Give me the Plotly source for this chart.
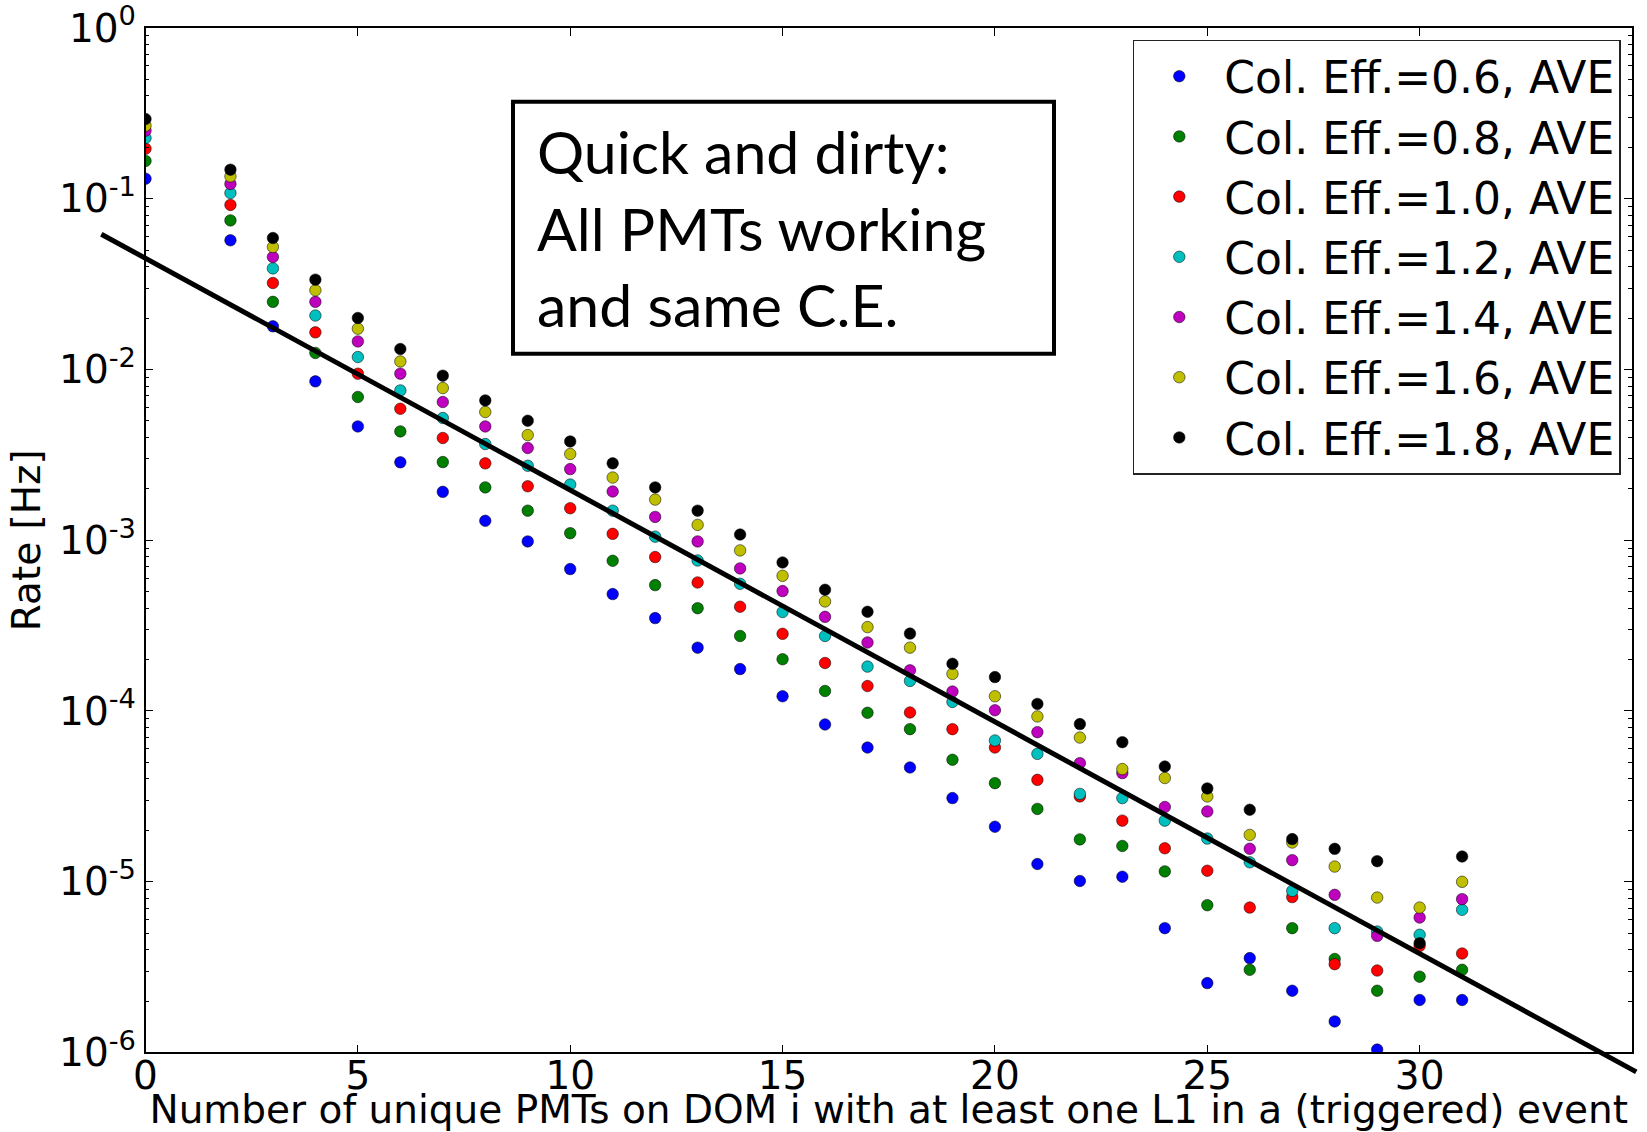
import plotly.graph_objects as go

# ---------------- data ----------------
x_vals = [0, 2, 3, 4, 5, 6, 7, 8, 9, 10, 11, 12, 13, 14, 15, 16, 17, 18, 19, 20,
          21, 22, 23, 24, 25, 26, 27, 28, 29, 30, 31]

ce_06 = [0.131, 0.0571, 0.0179, 0.00852, 0.00464, 0.00286, 0.00192, 0.0013, 0.000984, 0.000678,
         0.000484, 0.00035, 0.000235, 0.000176, 0.000122, 8.34e-5, 6.11e-5, 4.67e-5, 3.09e-5, 2.1e-5,
         1.27e-5, 1.01e-5, 1.07e-5, 5.35e-6, 2.55e-6, 3.57e-6, 2.30e-6, 1.52e-6, 1.04e-6, 2.03e-6, 2.03e-6]
ce_08 = [0.1665, 0.0747, 0.0249, 0.0125, 0.0069, 0.00434, 0.00287, 0.00204, 0.00149, 0.0011,
         0.000758, 0.000546, 0.0004, 0.000275, 0.000201, 0.000131, 9.76e-5, 7.83e-5, 5.18e-5, 3.78e-5,
         2.67e-5, 1.77e-5, 1.62e-5, 1.15e-5, 7.29e-6, 3.05e-6, 5.35e-6, 3.53e-6, 2.30e-6, 2.78e-6, 3.05e-6]
ce_10 = [0.1965, 0.092, 0.0321, 0.0165, 0.00945, 0.00589, 0.00397, 0.00282, 0.00207, 0.00154,
         0.00109, 0.000797, 0.000566, 0.000408, 0.000283, 0.000191, 0.00014, 9.8e-5, 7.83e-5, 6.11e-5,
         3.95e-5, 3.16e-5, 2.28e-5, 1.57e-5, 1.16e-5, 7.06e-6, 8.13e-6, 3.29e-6, 3.02e-6, 4.21e-6, 3.80e-6]
ce_12 = [0.227, 0.108, 0.0391, 0.0207, 0.01183, 0.00754, 0.0052, 0.00366, 0.00273, 0.00212,
         0.00149, 0.00105, 0.000761, 0.000556, 0.00038, 0.000275, 0.000182, 0.00015, 0.000113, 6.72e-5,
         5.61e-5, 3.27e-5, 3.09e-5, 2.28e-5, 1.79e-5, 1.30e-5, 8.84e-6, 5.35e-6, 5.11e-6, 4.89e-6, 6.85e-6]
ce_14 = [0.2506, 0.1221, 0.0456, 0.0249, 0.0146, 0.00945, 0.00645, 0.00464, 0.00347, 0.00261,
         0.00193, 0.00137, 0.000984, 0.000684, 0.000504, 0.000356, 0.000252, 0.000173, 0.00013, 0.000101,
         7.52e-5, 4.95e-5, 4.33e-5, 2.74e-5, 2.58e-5, 1.56e-5, 1.338e-5, 8.38e-6, 4.82e-6, 6.17e-6, 7.91e-6]
ce_16 = [0.268, 0.1353, 0.0522, 0.0291, 0.01734, 0.01115, 0.00779, 0.00564, 0.00413, 0.0032,
         0.00233, 0.00173, 0.00123, 0.000872, 0.000619, 0.000438, 0.00031, 0.000235, 0.000165, 0.000122,
         9.29e-5, 6.99e-5, 4.57e-5, 4.05e-5, 3.16e-5, 1.88e-5, 1.697e-5, 1.227e-5, 8.08e-6, 7.06e-6, 9.99e-6]
ce_18 = [0.293, 0.148, 0.0589, 0.0336, 0.02003, 0.01318, 0.0092, 0.00659, 0.00501, 0.00379,
         0.00282, 0.00204, 0.00149, 0.00108, 0.000741, 0.000513, 0.000381, 0.000284, 0.000189, 0.000158,
         0.00011, 8.38e-5, 6.57e-5, 4.73e-5, 3.52e-5, 2.64e-5, 1.777e-5, 1.558e-5, 1.32e-5, 4.37e-6, 1.405e-5]

series_names = ["Col. Eff.=0.6, AVE", "Col. Eff.=0.8, AVE", "Col. Eff.=1.0, AVE",
                "Col. Eff.=1.2, AVE", "Col. Eff.=1.4, AVE", "Col. Eff.=1.6, AVE",
                "Col. Eff.=1.8, AVE"]
series_values = [ce_06, ce_08, ce_10, ce_12, ce_14, ce_16, ce_18]
series_colors = ["#0000ff", "#008000", "#ff0000", "#00bfbf", "#bf00bf", "#bfbf00", "#000000"]

# straight-line guide (data coordinates of its two ends; it runs past the frame)
fit_x = [-1.04, 35.1]
fit_y = [0.062, 7.7e-7]

x_ticks = [0, 5, 10, 15, 20, 25, 30]
y_ticks = [1, 1e-1, 1e-2, 1e-3, 1e-4, 1e-5, 1e-6]
y_ticktext = ["10<sup>0</sup>", "10<sup>-1</sup>", "10<sup>-2</sup>", "10<sup>-3</sup>",
              "10<sup>-4</sup>", "10<sup>-5</sup>", "10<sup>-6</sup>"]
y_minor = [m * 10.0 ** e for e in range(-6, 0) for m in range(2, 10)]

box_text = "Quick and dirty:<br>All PMTs working<br>and same C.E."

# ---------------- layout geometry (pixels) ----------------
W, H = 1647, 1132
ML, MR, MT, MB = 100, 5, 28.4, 57          # outer plotting region (guide line may extend here)
FR_L, FR_R, FR_T, FR_B = 145.5, 1632, 28.4, 1052.5   # visible frame
XR = [0, 35]
YR = [-6, 0]                                # log10 range

pw, ph = W - ML - MR, H - MT - MB
x_dom = [(FR_L - ML) / pw, (FR_R - ML) / pw]
y_dom = [(H - MB - FR_B) / ph, (H - MB - FR_T) / ph]
ux = (XR[1] - XR[0]) / (FR_R - FR_L)        # units per px
uy = (YR[1] - YR[0]) / (FR_B - FR_T)
x2_range = [XR[0] - (FR_L - ML) * ux, XR[1] + (W - MR - FR_R) * ux]
y2_range = [YR[0] - (H - MB - FR_B) * uy, YR[1] + (FR_T - MT) * uy]


def px(v):
    return (v - ML) / pw


def py(v):
    return (H - MB - v) / ph


# ---------------- figure ----------------
FONT = "DejaVu Sans"
AX_FS = 39
fig = go.Figure()

for name, vals, col in zip(series_names, series_values, series_colors):
    fig.add_trace(go.Scatter(
        x=x_vals, y=vals, mode="markers", name=name, xaxis="x", yaxis="y",
        marker=dict(color=col, size=11.5, line=dict(color="rgba(0,0,0,0.65)", width=0.8)),
    ))

fig.add_trace(go.Scatter(
    x=fit_x, y=fit_y, mode="lines", showlegend=False, xaxis="x2", yaxis="y2",
    line=dict(color="black", width=5),
))

fig.update_layout(
    width=W, height=H,
    margin=dict(l=ML, r=MR, t=MT, b=MB, autoexpand=False),
    paper_bgcolor="white", plot_bgcolor="rgba(0,0,0,0)",
    font=dict(family=FONT, color="black", size=AX_FS),
    showlegend=True,
    legend=dict(
        x=px(1620.8), xanchor="right", y=py(40), yanchor="top",
        bgcolor="white", bordercolor="#222", borderwidth=1.5,
        font=dict(family=FONT, size=44, color="black"),
        itemwidth=80, tracegroupgap=0,
    ),
    xaxis=dict(
        domain=x_dom, anchor="y",
        range=XR, tickvals=x_ticks, ticks="inside", ticklen=8, tickwidth=1,
        tickcolor="black", showline=True, linecolor="black", linewidth=1.5, mirror="allticks",
        showgrid=False, zeroline=False, tickfont=dict(family=FONT, size=AX_FS),
        ticklabelstandoff=-12, ticklabeloverflow="allow",
        title=dict(text="Number of unique PMTs on DOM i with at least one L1 in a (triggered) event",
                   font=dict(family=FONT, size=AX_FS), standoff=0),
        automargin=False,
    ),
    yaxis=dict(
        domain=y_dom, anchor="x",
        type="log", range=YR, tickvals=y_ticks, ticktext=y_ticktext,
        ticks="inside", ticklen=8, tickwidth=1, tickcolor="black",
        minor=dict(tickvals=y_minor, ticks="inside", ticklen=4, tickwidth=1,
                   tickcolor="black", showgrid=False),
        showline=True, linecolor="black", linewidth=1.5, mirror="allticks",
        showgrid=False, zeroline=False, tickfont=dict(family=FONT, size=AX_FS),
        ticklabeloverflow="allow",
        title=dict(text="Rate [Hz]", font=dict(family=FONT, size=AX_FS), standoff=6),
        automargin=False,
    ),
    xaxis2=dict(domain=[0, 1], anchor="y2", range=x2_range, visible=False,
                showgrid=False, zeroline=False),
    yaxis2=dict(domain=[0, 1], anchor="x2", type="log", range=y2_range, visible=False,
                showgrid=False, zeroline=False),
)

# text box
fig.add_shape(type="rect", xref="paper", yref="paper",
              x0=px(513), x1=px(1054), y0=py(354), y1=py(102),
              line=dict(color="black", width=4), fillcolor="white", layer="above")
fig.add_annotation(xref="paper", yref="paper", x=px(534.5), y=py(228),
                   xanchor="left", yanchor="middle", align="left", showarrow=False,
                   text=box_text, font=dict(family="Lato", size=59, color="black"))

fig.write_html("out.html", config={"displayModeBar": False},
               post_script="document.body.style.margin='0px';")
